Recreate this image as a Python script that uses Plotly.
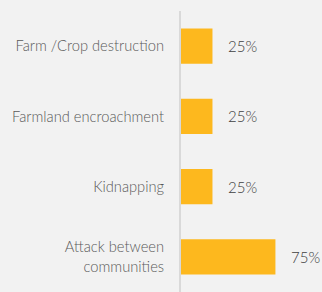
import plotly.graph_objects as go

categories = ["Farm /Crop destruction", "Farmland encroachment", "Kidnapping", "Attack between<br>communities"]
values = [25, 25, 25, 75]
value_labels = ["25%", "25%", "25%", "75%"]

fig = go.Figure()
fig.add_trace(go.Bar(
    y=categories, x=values, orientation="h",
    marker=dict(color="#FDB81E", line=dict(width=0)),
    hoverinfo="skip",
))
for c, v, t in zip(categories, values, value_labels):
    fig.add_annotation(x=v, y=c, text=t, xanchor="left", yanchor="middle",
                       xshift=14, showarrow=False,
                       font=dict(family="Lato", size=15, color="#404040", weight=300))

fig.update_layout(
    width=322, height=292,
    margin=dict(l=181, r=0, t=11, b=0, autoexpand=False),
    paper_bgcolor="#f2f2f2", plot_bgcolor="#f2f2f2",
    bargap=0.5, showlegend=False,
    font=dict(family="Lato", size=14, color="#595959"),
)
fig.update_xaxes(range=[0, 112], visible=False, showgrid=False, zeroline=False,
                 automargin=False)
fig.update_yaxes(autorange="reversed", showgrid=False, zeroline=False,
                 automargin=False,
                 showline=True, linecolor="#d9d9d9", linewidth=2,
                 ticks="outside", ticklen=12, tickcolor="rgba(0,0,0,0)",
                 tickfont=dict(family="Lato", size=14.7, color="#595959", weight=300))
fig.write_html("out.html", config={"displayModeBar": False},
               post_script="document.body.style.margin='0';document.body.style.background='#f2f2f2';")
